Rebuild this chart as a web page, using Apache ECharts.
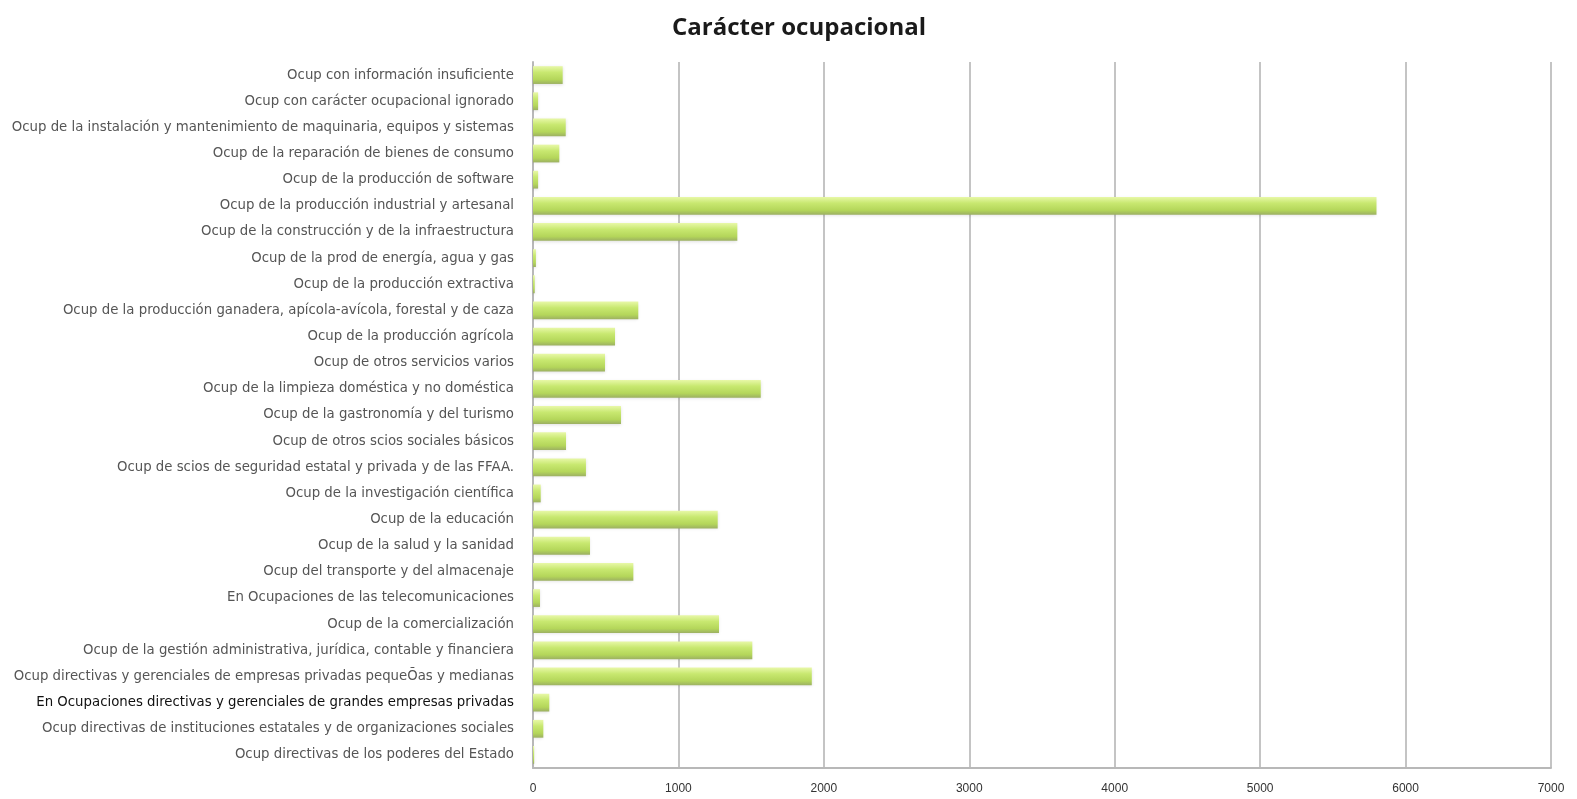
<!DOCTYPE html>
<html>
<head>
<meta charset="utf-8">
<script src="https://cdn.jsdelivr.net/npm/echarts@6/dist/echarts.min.js"></script>
<style>html,body{margin:0;padding:0;background:#fff;}#c{width:1577px;height:799px;}</style>
</head>
<body>
<div id="c"></div>
<script>
// Top-to-bottom order as displayed
const categories = [
  "Ocup con información insuficiente",
  "Ocup con carácter ocupacional ignorado",
  "Ocup de la instalación y mantenimiento de maquinaria, equipos y sistemas",
  "Ocup de la reparación de bienes de consumo",
  "Ocup de la producción de software",
  "Ocup de la producción industrial y artesanal",
  "Ocup de la construcción y de la infraestructura",
  "Ocup de la prod de energía, agua y gas",
  "Ocup de la producción extractiva",
  "Ocup de la producción ganadera, apícola-avícola, forestal y de caza",
  "Ocup de la producción agrícola",
  "Ocup de otros servicios varios",
  "Ocup de la limpieza doméstica y no doméstica",
  "Ocup de la gastronomía y del turismo",
  "Ocup de otros scios sociales básicos",
  "Ocup de scios de seguridad estatal y privada y de las FFAA.",
  "Ocup de la investigación científica",
  "Ocup de la educación",
  "Ocup de la salud y la sanidad",
  "Ocup del transporte y del almacenaje",
  "En Ocupaciones de las telecomunicaciones",
  "Ocup de la comercialización",
  "Ocup de la gestión administrativa, jurídica, contable y financiera",
  "Ocup directivas y gerenciales de empresas privadas pequeÕas y medianas",
  "En Ocupaciones directivas y gerenciales de grandes empresas privadas",
  "Ocup directivas de instituciones estatales y de organizaciones sociales",
  "Ocup directivas de los poderes del Estado"
];
const values = [
  204, 35, 225, 181, 35, 5800, 1405, 20, 12, 724, 564, 495, 1566, 605, 227,
  364, 53, 1270, 392, 690, 48, 1279, 1508, 1917, 112, 71, 8
];
const xTicks = [0, 1000, 2000, 3000, 4000, 5000, 6000, 7000];

const chart = echarts.init(document.getElementById('c'));
chart.setOption({
  backgroundColor: '#ffffff',
  animation: false,
  title: {
    text: 'Carácter ocupacional',
    left: 667,
    top: 11,
    textStyle: { fontFamily: 'Open Sans', fontWeight: 'bold', fontSize: 24, color: '#1a1a1a' }
  },
  grid: { left: 533, right: 26, top: 62, bottom: 31, containLabel: false },
  xAxis: {
    type: 'value',
    min: xTicks[0],
    max: xTicks[xTicks.length - 1],
    interval: 1000,
    axisLine: { show: true, lineStyle: { color: '#b8b8b8', width: 2 } },
    axisTick: { show: false },
    axisLabel: {
      fontFamily: 'Liberation Sans Narrow, Liberation Sans',
      fontSize: 12,
      color: '#333',
      margin: 15,
      formatter: function (v) { return String(v); }
    },
    splitLine: { show: true, lineStyle: { color: '#c4c4c4', width: 2 } }
  },
  yAxis: {
    type: 'category',
    inverse: true,
    data: categories,
    axisLine: { show: true, lineStyle: { color: '#b8b8b8', width: 2 } },
    axisTick: { show: false },
    axisLabel: {
      fontFamily: 'DejaVu Sans',
      fontSize: 13.3,
      color: '#555',
      margin: 19,
      formatter: function (v) {
        if (v.indexOf('grandes empresas') >= 0) return '{b|' + v + '}';
        return v;
      },
      rich: { b: { fontFamily: 'DejaVu Sans', fontSize: 13.3, color: '#111' } }
    }
  },
  series: [{
    type: 'bar',
    data: values,
    barCategoryGap: '32%',
    itemStyle: {
      color: new echarts.graphic.LinearGradient(0, 0, 0, 1, [
        { offset: 0, color: '#e8f8a8' },
        { offset: 0.35, color: '#c8e870' },
        { offset: 0.75, color: '#b4d65a' },
        { offset: 1, color: '#9cb062' }
      ]),
      shadowColor: 'rgba(0,0,0,0.12)',
      shadowBlur: 3,
      shadowOffsetY: 1
    }
  }]
});
</script>
</body>
</html>
